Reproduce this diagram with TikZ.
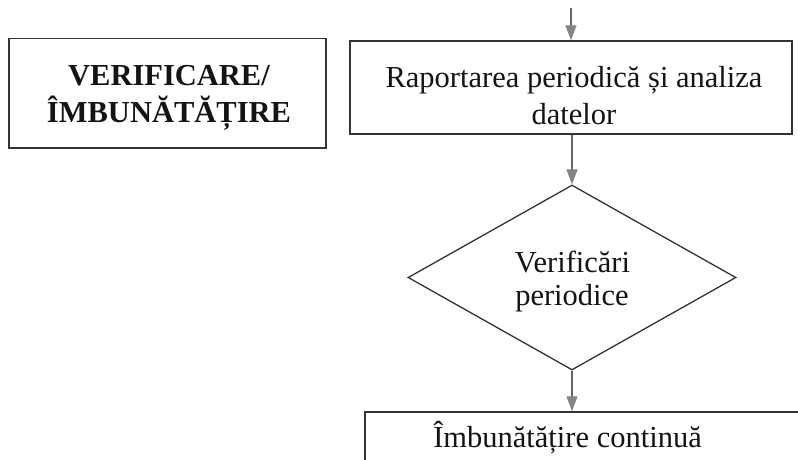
\documentclass[tikz,border=0pt]{standalone}
\usepackage{fontspec}
\setmainfont{Liberation Serif}
\usetikzlibrary{arrows.meta,shapes.geometric}
\definecolor{boxline}{HTML}{333333}
\definecolor{arrline}{HTML}{666666}
\definecolor{arrhead}{HTML}{858585}
\tikzset{
  boxshape/.style={draw=boxline, line width=1.5pt, rectangle, inner sep=0pt},
  diashape/.style={draw=boxline, line width=1.3pt, diamond, inner sep=0pt},
  txt/.style={anchor=base, inner sep=0pt, text=black!92, font=\fontsize{30.5}{36.6}\selectfont},
  btxt/.style={txt, font=\fontsize{30.5}{36.6}\selectfont\bfseries},
  flow/.style={draw=arrline, line width=1.1pt, -{Triangle[width=11pt,length=15pt,fill=arrhead,color=arrhead]}}
}
\begin{document}
\begin{tikzpicture}[x=1pt,y=-1pt]
\useasboundingbox (0,0) rectangle (798,459);
\fill[white] (0,0) rectangle (798,459);

% left box
\node[boxshape, minimum width=317pt, minimum height=109.5pt] (verif) at (167.5,93.25) {};
\node[btxt] (verifA) at (169,85) {VERIFICARE/};
\node[btxt] (verifB) at (169,122) {ÎMBUNĂTĂȚIRE};

% report box
\node[boxshape, minimum width=442pt, minimum height=93pt] (rap) at (571,87.5) {};
\node[txt] (rapA) at (574,87) {Raportarea periodică și analiza};
\node[txt] (rapB) at (574,124) {datelor};

% diamond
\node[diashape, minimum width=328pt, minimum height=185pt] (dia) at (572,277.5) {};
\node[txt] (diaA) at (572.5,272) {Verificări};
\node[txt] (diaB) at (572,305) {periodice};

% bottom box (cropped)
\node[boxshape, minimum width=445pt, minimum height=60pt] (imb) at (587.5,442) {};
\node[txt] (imbA) at (567.5,447) {Îmbunătățire continuă};

% connectors
\coordinate (in) at (571,8);
\draw[flow] (in) -- (in |- rap.north);
\draw[flow] (rap.south -| dia.north) -- (dia.north);
\draw[flow] (dia.south) -- (dia.south |- imb.north);
\end{tikzpicture}
\end{document}
